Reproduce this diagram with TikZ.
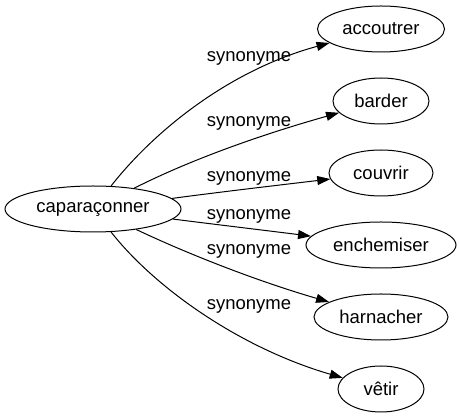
\documentclass[tikz,border=0pt]{standalone}
\usepackage{fontspec}
\setmainfont{Liberation Sans}
\usetikzlibrary{shapes.geometric,arrows.meta}
\newlength{\du}
\setlength{\du}{15\unitlength}
\tikzset{
  dianode/.style={ellipse,draw=dialinecolor,inner sep=0pt,line width=0.066667\du,
    minimum height=3.066667\du,font=\fontsize{18.5}{22}\selectfont},
  dialabel/.style={inner sep=0pt,font=\fontsize{18.5}{22}\selectfont},
  dialink/.style={draw=dialinecolor,line width=0.066667\du,
    -{Triangle[length=13pt,width=9pt]}}
}

\begin{document}
\begin{tikzpicture}
\pgftransformxscale{1.000000}
\pgftransformyscale{-1.000000}
\definecolor{dialinecolor}{rgb}{0.000000, 0.000000, 0.000000}
\pgfsetstrokecolor{dialinecolor}
\definecolor{dialinecolor}{rgb}{1.000000, 1.000000, 1.000000}
\pgfsetfillcolor{dialinecolor}
\fill (0.000000\du,0.000000\du) rectangle (30.600000\du,27.933333\du);
\useasboundingbox (0.000000\du,0.000000\du) rectangle (30.600000\du,27.933333\du);
\definecolor{dialinecolor}{rgb}{0.000000, 0.000000, 0.000000}
\pgfsetstrokecolor{dialinecolor}
% setfont left to latex
\node[dianode,minimum width=11.733333\du] (caparaconner) at (6.200000\du,13.933333\du){caparaçonner};
\node[dianode,minimum width=8.466667\du] (accoutrer) at (25.400000\du,1.933333\du){accoutrer};
\node[dianode,minimum width=6.400000\du] (barder) at (25.400000\du,6.733333\du){barder};
\node[dianode,minimum width=6.933333\du] (couvrir) at (25.400000\du,11.533333\du){couvrir};
\node[dianode,minimum width=10.000000\du] (enchemiser) at (25.400000\du,16.333333\du){enchemiser};
\node[dianode,minimum width=8.933333\du] (harnacher) at (25.400000\du,21.133333\du){harnacher};
\node[dianode,minimum width=5.733333\du] (vetir) at (25.400000\du,25.933333\du){vêtir};
% setfont left to latex
\node[dialabel] (syn1) at (16.600000\du,3.866667\du){synonyme};
\node[dialabel] (syn2) at (16.600000\du,8.200000\du){synonyme};
\node[dialabel] (syn3) at (16.600000\du,11.866667\du){synonyme};
\node[dialabel] (syn4) at (16.600000\du,14.400000\du){synonyme};
\node[dialabel] (syn5) at (16.600000\du,16.733333\du){synonyme};
\node[dialabel] (syn6) at (16.600000\du,20.400000\du){synonyme};
\pgfsetlinewidth{0.066667\du}
\pgfsetdash{}{0pt}
\pgfsetbuttcap
{
\definecolor{dialinecolor}{rgb}{0.000000, 0.000000, 0.000000}
\pgfsetfillcolor{dialinecolor}
\draw[dialink] (caparaconner) .. controls (10.333333\du,8.666667\du) and (15.333333\du,4.666667\du) .. (accoutrer);
\draw[dialink] (caparaconner) .. controls (12.666667\du,10.666667\du) and (17.333333\du,9.000000\du) .. (barder);
\draw[dialink] (caparaconner) .. controls (14.666667\du,12.800000\du) and (18.666667\du,12.333333\du) .. (couvrir);
\draw[dialink] (caparaconner) .. controls (14.666667\du,15.000000\du) and (18.000000\du,15.400000\du) .. (enchemiser);
\draw[dialink] (caparaconner) .. controls (12.666667\du,17.000000\du) and (17.333333\du,18.800000\du) .. (harnacher);
\draw[dialink] (caparaconner) .. controls (10.333333\du,19.200000\du) and (16.000000\du,23.200000\du) .. (vetir);
}
\end{tikzpicture}
\end{document}
